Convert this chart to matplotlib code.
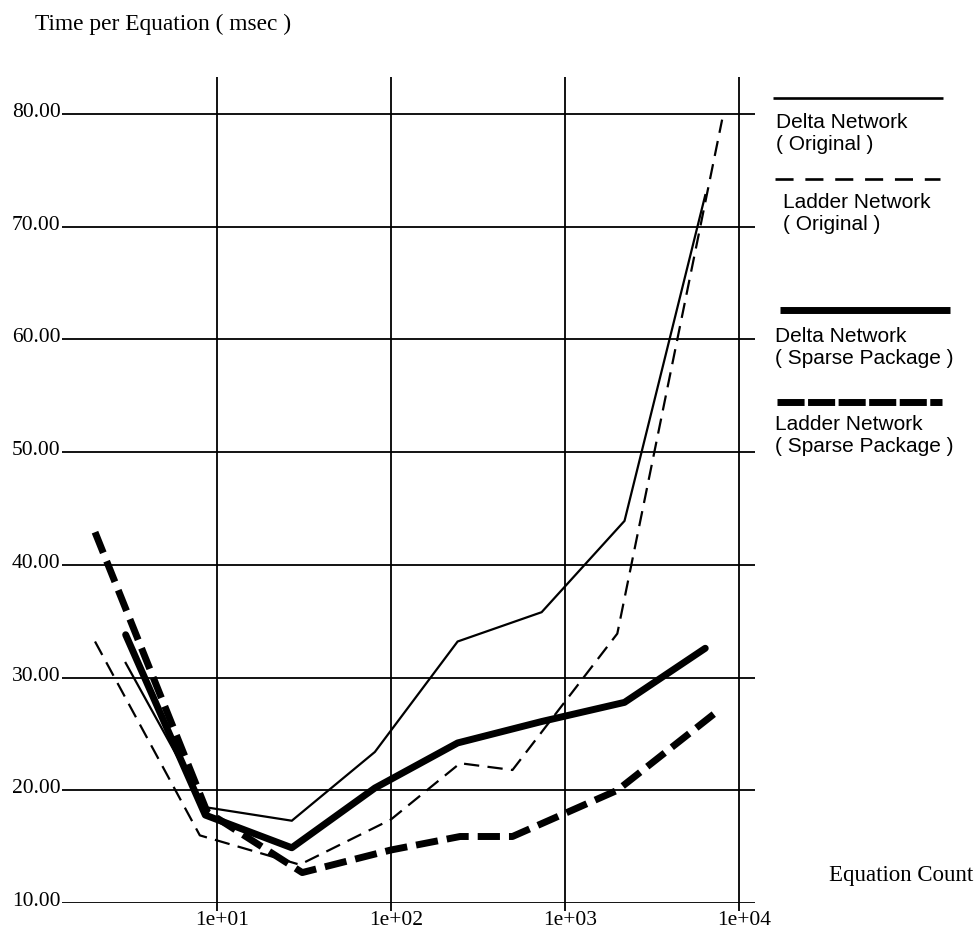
import matplotlib
matplotlib.use("Agg")
import matplotlib.pyplot as plt
from matplotlib.lines import Line2D
from matplotlib.transforms import ScaledTranslation

W, H = 979, 932
plt.rcParams['lines.scale_dashes'] = False

SERIF = ['Liberation Serif', 'DejaVu Serif']
SANS = ['Liberation Sans', 'DejaVu Sans']

# Equation counts and time per equation (msec)
delta_x = [3, 8.6, 27, 81, 242, 735, 2200, 6400]
delta_original = [31.3, 18.5, 17.3, 23.4, 33.2, 35.8, 43.9, 72.8]
delta_sparse = [33.8, 17.8, 14.9, 20.2, 24.2, 26.1, 27.8, 32.6]

ladder_x = [2, 8.0, 30, 100, 250, 500, 2000, 8000]
ladder_original = [33.2, 16.0, 13.4, 17.4, 22.4, 21.8, 33.9, 79.5]

ladder_sparse_x = [2, 8.8, 31, 100, 250, 500, 2000, 7500]
ladder_sparse = [42.9, 18.1, 12.7, 14.7, 15.9, 15.9, 20.0, 27.0]

x_ticks = [10, 100, 1000, 10000]
x_tick_labels = ['1e+01', '1e+02', '1e+03', '1e+04']
y_ticks = [10, 20, 30, 40, 50, 60, 70, 80]

legend_labels = ['Delta Network\n( Original )', 'Ladder Network\n( Original )',
                 'Delta Network\n( Sparse Package )', 'Ladder Network\n( Sparse Package )']

THIN = 1.6
THICK = 5.0
thin_dash = (0, (11, 6))
thick_dash = (0, (16, 6.5))

fig = plt.figure(figsize=(W / 100, H / 100), dpi=100)
fig.patch.set_facecolor('white')


def px(x, y):
    return x / W, 1 - y / H


left, right, top, bottom = 62, 755, 77, 903
ax = fig.add_axes([left / W, 1 - bottom / H, (right - left) / W, (bottom - top) / H])
ax.set_xscale('log')

ax.plot(delta_x, delta_original, color='black', lw=THIN, solid_joinstyle='miter')
ax.plot(ladder_x, ladder_original, color='black', lw=THIN, linestyle=thin_dash,
        dash_capstyle='butt')
ax.plot(delta_x, delta_sparse, color='black', lw=THICK, solid_capstyle='round',
        solid_joinstyle='round')
ax.plot(ladder_sparse_x, ladder_sparse, color='black', lw=THICK, linestyle=thick_dash,
        dash_capstyle='butt', dash_joinstyle='round')

decade = (739 - 216.7) / 3
ax.set_xlim(10 ** (1 - (216.7 - left) / decade), 10 ** (4 + (right - 739) / decade))
ax.set_ylim(10, 80 + (114 - top) / (789 / 70))

ax.set_xticks(x_ticks)
ax.set_xticklabels(x_tick_labels)
ax.xaxis.set_minor_locator(matplotlib.ticker.NullLocator())
ax.set_yticks(y_ticks)
ax.set_yticklabels([f'{v:.2f}' for v in y_ticks])

ax.grid(True, which='major', color='black', lw=1.3)
ax.set_axisbelow(True)
for s in ax.spines.values():
    s.set_visible(False)
ax.tick_params(axis='x', length=6, width=1.3, direction='out', pad=0, labelsize=15.5)
ax.tick_params(axis='y', length=0, pad=1, labelsize=15.5)

# nudge tick labels: x labels a little to the right, y labels a little up
x_shift = ScaledTranslation(5 / 100, 0, fig.dpi_scale_trans)
y_shift = ScaledTranslation(0, 4 / 100, fig.dpi_scale_trans)
for lab in ax.get_xticklabels():
    lab.set_family(SERIF)
    lab.set_transform(lab.get_transform() + x_shift)
for lab in ax.get_yticklabels():
    lab.set_family(SERIF)
    lab.set_transform(lab.get_transform() + y_shift)

fig.text(*px(35, 24), 'Time per Equation ( msec )', family=SERIF, fontsize=16.8,
         ha='left', va='center')
fig.text(*px(829, 876), 'Equation Count', family=SERIF, fontsize=16.5,
         ha='left', va='center')

# Legend samples and labels at the right side
legend_items = [
    (773, 943, 98, THIN + 0.3, '-', 776, 133),
    (775, 940, 179, THIN + 0.3, (0, (13, 8.5)), 783, 213),
    (780, 950, 310, THICK, '-', 775, 348),
    (777, 942, 402, THICK, (0, (19.5, 2.5)), 775, 436),
]
for (x0, x1, y, lw, ls, tx, ty), label in zip(legend_items, legend_labels):
    (fx0, fy), (fx1, _) = px(x0, y), px(x1, y)
    fig.add_artist(Line2D([fx0, fx1], [fy, fy], color='black', lw=lw, linestyle=ls,
                          dash_capstyle='butt', solid_capstyle='butt'))
    fig.text(*px(tx, ty), label, family=SANS, fontsize=15, ha='left', va='center',
             linespacing=1.2)

fig.savefig('out.png', dpi=100, facecolor='white')
